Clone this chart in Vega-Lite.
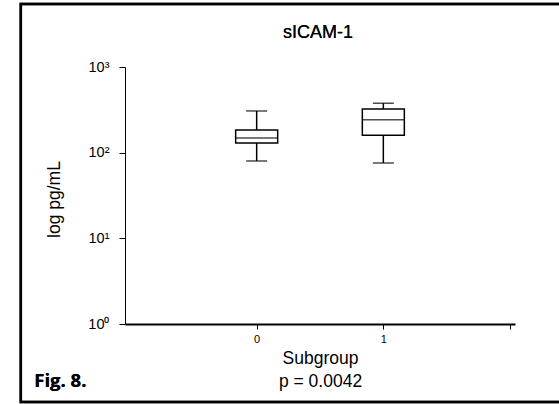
{
  "$schema": "https://vega.github.io/schema/vega-lite/v6.json",
  "autosize": "none",
  "width": 390,
  "height": 257,
  "padding": {"left": 125, "top": 67, "right": 44, "bottom": 80},
  "background": "white",
  "config": {
    "view": {"stroke": null},
    "font": "Liberation Sans",
    "axis": {"grid": false, "domainColor": "black", "tickColor": "black", "labelColor": "black", "titleColor": "black", "labelFont": "Liberation Sans", "titleFont": "Liberation Sans", "titleFontWeight": "normal"}
  },
  "data": {"values": [
    {"group": 0, "min": 80, "q1": 130, "median": 148, "q3": 184, "max": 307},
    {"group": 1, "min": 76, "q1": 160, "median": 243, "q3": 324, "max": 377}
  ]},
  "layer": [
    {
      "mark": {"type": "rule", "color": "black", "strokeWidth": 1.5},
      "encoding": {
        "x": {"field": "group", "type": "quantitative", "scale": {"domain": [-1, 2], "nice": false, "zero": false},
          "axis": {"values": [0, 1, 2], "format": "d", "labelExpr": "datum.value == 2 ? '' : datum.label", "tickSize": 5, "domainWidth": 2, "tickWidth": 1, "labelFontSize": 11, "labelPadding": 4, "labelFlush": false,
            "title": ["Subgroup", "p = 0.0042"], "titleFontSize": 17.5, "titleLineHeight": 23, "titleBaseline": "alphabetic", "titleY": 39.3}},
        "y": {"field": "min", "type": "quantitative", "scale": {"type": "log", "domain": [1, 1000], "nice": false},
          "axis": {"values": [1, 10, 100, 1000], "labelExpr": "datum.value == 1 ? '10⁰' : datum.value == 10 ? '10¹' : datum.value == 100 ? '10²' : '10³'", "tickSize": 6, "domainWidth": 1, "labelFontSize": 14.5, "labelPadding": 10,
            "title": "log pg/mL", "titleFontSize": 17.5, "titleAngle": -90, "titleBaseline": "alphabetic", "titleAlign": "center", "titleX": -65.7, "titleY": 132}},
        "y2": {"field": "max"}
      }
    },
    {
      "mark": {"type": "bar", "size": 42, "fill": "white", "stroke": "black", "strokeWidth": 1.5},
      "encoding": {
        "x": {"field": "group", "type": "quantitative"},
        "y": {"field": "q1", "type": "quantitative"},
        "y2": {"field": "q3"}
      }
    },
    {
      "mark": {"type": "tick", "orient": "horizontal", "size": 42, "thickness": 1.5, "color": "black"},
      "encoding": {
        "x": {"field": "group", "type": "quantitative"},
        "y": {"field": "median", "type": "quantitative"}
      }
    },
    {
      "mark": {"type": "tick", "orient": "horizontal", "size": 21, "thickness": 1.5, "color": "black"},
      "encoding": {
        "x": {"field": "group", "type": "quantitative"},
        "y": {"field": "min", "type": "quantitative"}
      }
    },
    {
      "mark": {"type": "tick", "orient": "horizontal", "size": 21, "thickness": 1.5, "color": "black"},
      "encoding": {
        "x": {"field": "group", "type": "quantitative"},
        "y": {"field": "max", "type": "quantitative"}
      }
    },
    {
      "mark": {"type": "rect", "fill": null, "stroke": "black", "strokeWidth": 2.5, "clip": false},
      "encoding": {
        "x": {"datum": -1.862, "type": "quantitative"},
        "x2": {"datum": 10},
        "y": {"datum": 5433, "type": "quantitative"},
        "y2": {"datum": 0.1229}
      }
    },
    {
      "mark": {"type": "text", "text": "sICAM-1", "font": "Liberation Sans", "fontSize": 18, "fontWeight": "normal", "align": "center", "baseline": "alphabetic", "color": "black", "clip": false},
      "encoding": {
        "x": {"datum": 0.485, "type": "quantitative"},
        "y": {"datum": 2163, "type": "quantitative"}
      }
    },
    {
      "mark": {"type": "text", "text": "Fig. 8.", "font": "Open Sans", "fontWeight": "bold", "fontSize": 18.5, "align": "left", "baseline": "alphabetic", "color": "black", "clip": false},
      "encoding": {
        "x": {"datum": -1.756, "type": "quantitative"},
        "y": {"datum": 0.1854, "type": "quantitative"}
      }
    }
  ]
}
